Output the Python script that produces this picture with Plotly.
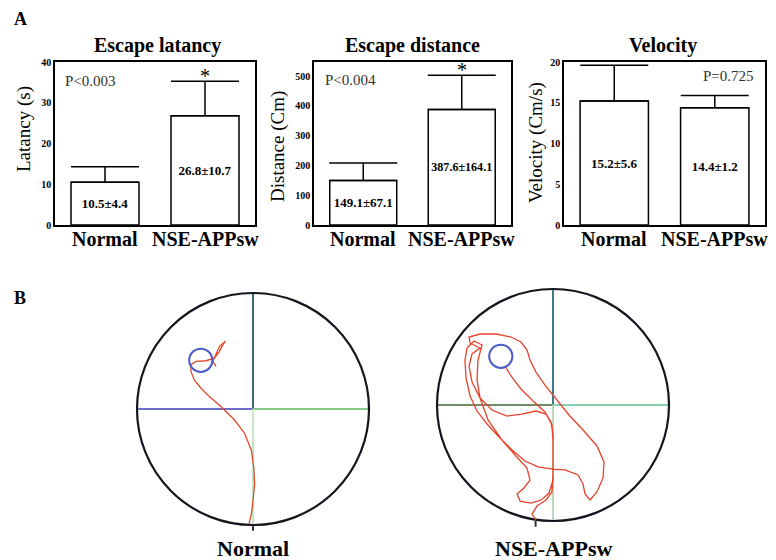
import plotly.graph_objects as go

# ---------------- data ----------------
groups = ["Normal", "NSE-APPsw"]

latency_mean = [10.5, 26.8]
latency_err = [3.8, 8.5]
latency_labels = ["10.5±4.4", "26.8±10.7"]

distance_mean = [149.1, 387.6]
distance_err = [59, 115]
distance_labels = ["149.1±67.1", "387.6±164.1"]

velocity_mean = [15.2, 14.4]
velocity_err = [4.4, 1.5]
velocity_labels = ["15.2±5.6", "14.4±1.2"]

panel_titles = ["Escape latancy", "Escape distance", "Velocity"]
y_titles = ["Latancy (s)", "Distance (Cm)", "Velocity (Cm/s)"]
p_values = ["P<0.003", "P<0.004", "P=0.725"]

lat_ticks = [0, 10, 20, 30, 40]
dist_ticks = [0, 100, 200, 300, 400, 500]
vel_ticks = [0, 5, 10, 15, 20]

# swim paths in pool units (pool radius = 100, centre = 0,0)
normal_x = [-3.5, -1.4, 0.0, 1.4, 0.6, -1.4, -7.2, -15.9, -27.5, -37.6, -44.8, -50.6,
            -53.5, -53.5, -49.1, -40.5, -33.2, -28.9, -26.0, -23.7, -28.9, -31.8, -34.7, -31.8]
normal_y = [-99.0, -90.5, -78.9, -64.5, -50.0, -35.5, -21.1, -9.5, 2.0, 10.7, 17.9, 25.1,
            32.4, 38.2, 41.0, 41.6, 43.9, 49.7, 55.5, 58.4, 54.0, 46.8, 41.0, 36.7]

nse_x = [-14.7, -18.1, -13.8, -6.0, -0.9, 0.0, 0.0, 0.0, -1.7, -6.0, -14.7, -26.7, -39.7,
         -52.6, -62.9, -69.8, -72.4, -69.8, -62.9, -71.5, -72.4, -62.9, -49.1, -36.2, -27.6,
         -22.4, -19.8, -14.7, -6.9, 2.6, 13.8, 26.7, 37.9, 44.0, 43.1, 37.9, 31.9, 27.6, 25.9,
         21.6, 10.3, 0.0, -12.9, -24.1, -35.3, -46.5, -56.9, -65.5, -71.5, -75.0, -75.9, -74.1,
         -68.1, -61.2, -64.7, -65.5, -62.9, -56.0, -44.0, -31.9, -22.4, -19.8, -25.0, -31.0,
         -28.4, -19.0, -10.3, -3.4, 0.0, 0.0, 0.0, -0.9, -6.9, -17.2, -27.6, -36.2, -41.4]
nse_y = [-99.0, -94.0, -87.1, -81.9, -75.0, -60.3, -43.1, -25.9, -14.7, -7.8, -5.2, -7.8,
         -9.5, -4.3, 6.0, 19.8, 33.6, 44.0, 49.1, 53.4, 58.6, 61.2, 61.2, 58.6, 54.3, 47.4,
         38.8, 28.4, 17.2, 5.2, -8.6, -22.4, -35.3, -49.1, -62.9, -75.0, -81.9, -76.7, -68.1,
         -60.3, -56.0, -55.2, -53.4, -48.3, -38.8, -27.6, -16.4, -5.2, 7.8, 23.3, 38.8, 49.1,
         55.2, 51.7, 38.8, 21.6, 6.0, -12.9, -30.2, -44.0, -54.3, -64.7, -71.5, -76.7, -82.8,
         -84.5, -81.9, -75.9, -64.7, -47.4, -30.2, -17.2, -6.0, 3.4, 13.8, 25.0, 33.6]

platform_x = -45
platform_y = 42
platform_r = 10
pool_r = 100
start_x = [0, -15]
start_y = [-103, -103]

# ---------------- figure ----------------
W, H = 776, 560
SERIF = "Liberation Serif, Times New Roman, serif"


def fx(p):
    return p / W


def fy(p):
    return 1 - p / H


fig = go.Figure()

bar_sets = [(latency_mean, latency_err, latency_labels),
            (distance_mean, distance_err, distance_labels),
            (velocity_mean, velocity_err, velocity_labels)]
axis_ids = ["", "2", "3"]
x_domains = [(55, 255), (314, 511), (564, 765)]
y_ranges = [[0, 40], [0, 547], [0, 20]]
tick_sets = [lat_ticks, dist_ticks, vel_ticks]

for (m, e, l), aid in zip(bar_sets, axis_ids):
    fig.add_trace(go.Bar(
        x=groups, y=m, width=0.68,
        marker=dict(color="white", line=dict(color="black", width=1.5)),
        error_y=dict(type="data", array=e, arrayminus=[0, 0], symmetric=False,
                     width=34, thickness=1.5, color="black"),
        text=l, texttemplate="<b>%{text}</b>", textposition="inside",
        insidetextanchor="middle", textangle=0,
        textfont=dict(family=SERIF, size=13, color="black"),
        xaxis="x" + aid, yaxis="y" + aid, showlegend=False, hoverinfo="skip"))

layout = dict(width=W, height=H, margin=dict(l=0, r=0, t=0, b=0, autoexpand=False),
              paper_bgcolor="white", plot_bgcolor="white", showlegend=False)

for i, aid in enumerate(axis_ids):
    x0, x1 = x_domains[i]
    layout["xaxis" + aid] = dict(
        domain=[fx(x0), fx(x1)], type="category", range=[-0.5, 1.5],
        showline=True, mirror=True, linecolor="black", linewidth=1.5,
        ticks="", showgrid=False, zeroline=False, anchor="y" + aid, automargin=False,
        showticklabels=False)
    layout["yaxis" + aid] = dict(
        domain=[fy(225), fy(62)], range=y_ranges[i], tickvals=tick_sets[i],
        showline=True, mirror=True, linecolor="black", linewidth=1.5,
        ticks="", showgrid=False, zeroline=False, anchor="x" + aid, automargin=False,
        tickfont=dict(family=SERIF, size=10, color="black", weight="bold"))

# pool axes
pools = [("4", 253, 409), ("5", 553, 405)]
for aid, cx, cy in pools:
    half = 121.8
    layout["xaxis" + aid] = dict(domain=[fx(cx - half), fx(cx + half)], range=[-105, 105],
                                 visible=False, anchor="y" + aid, automargin=False)
    layout["yaxis" + aid] = dict(domain=[fy(cy + half), fy(cy - half)], range=[-105, 105],
                                 visible=False, anchor="x" + aid, automargin=False)

fig.update_layout(**layout)

# paths
fig.add_trace(go.Scatter(x=normal_x, y=normal_y, mode="lines",
                         line=dict(color="#e2492b", width=1.3),
                         xaxis="x4", yaxis="y4", hoverinfo="skip"))
fig.add_trace(go.Scatter(x=nse_x, y=nse_y, mode="lines",
                         line=dict(color="#e8412a", width=1.3),
                         xaxis="x5", yaxis="y5", hoverinfo="skip"))
for k, aid in enumerate(["4", "5"]):
    fig.add_trace(go.Scatter(x=[start_x[k]], y=[start_y[k]], mode="markers",
                             marker=dict(symbol="line-ns", size=5,
                                         line=dict(color="#333", width=2)),
                             xaxis="x" + aid, yaxis="y" + aid, hoverinfo="skip"))

shapes = []
cross_colors = {
    "4": ["#3d6670", "#6e6ec8", "#86c886", "#c6e6c6"],
    "5": ["#3a7a8a", "#6f8c66", "#86d0aa", "#b8dcb8"],
}
for aid in ["4", "5"]:
    xr, yr = "x" + aid, "y" + aid
    up, left, right, down = cross_colors[aid]
    segs = [((0, 0), (0, pool_r), up), ((-pool_r, 0), (0, 0), left),
            ((0, 0), (pool_r, 0), right), ((0, -pool_r), (0, 0), down)]
    for (a, b), (c, d), col in segs:
        shapes.append(dict(type="line", xref=xr, yref=yr, x0=a, y0=b, x1=c, y1=d,
                           line=dict(color=col, width=2), layer="below"))
    shapes.append(dict(type="circle", xref=xr, yref=yr, x0=-pool_r, y0=-pool_r,
                       x1=pool_r, y1=pool_r, line=dict(color="#15151f", width=2.2),
                       layer="below"))
    shapes.append(dict(type="circle", xref=xr, yref=yr,
                       x0=platform_x - platform_r, x1=platform_x + platform_r,
                       y0=platform_y - platform_r, y1=platform_y + platform_r,
                       line=dict(color="#4a5cc8", width=2), layer="above"))

annotations = []


def txt(text, x, y, size, bold=False, color="black", angle=0):
    if bold:
        text = "<b>" + text + "</b>"
    annotations.append(dict(text=text, x=fx(x), y=fy(y), xref="paper", yref="paper",
                            xanchor="center", yanchor="middle",
                            showarrow=False, textangle=angle,
                            font=dict(family=SERIF, size=size, color=color)))


txt("A", 20, 19, 18, bold=True)
txt("B", 20, 298, 18, bold=True)
title_x = [157, 412, 663]
for t, x in zip(panel_titles, title_x):
    txt(t, x, 45, 20, bold=True)
ytitle_pos = [(24, 129), (278, 147), (536, 143)]
for t, (x, y) in zip(y_titles, ytitle_pos):
    txt(t, x, y, 19, angle=-90)
p_pos = [(90, 81), (350, 80), (728, 76)]
for t, (x, y) in zip(p_values, p_pos):
    txt(t, x, y, 15, color="#333333")

# category labels under each bar chart
for aid in axis_ids:
    for k, g in enumerate(groups):
        annotations.append(dict(text="<b>" + g + "</b>", x=k, y=fy(239),
                                xref="x" + aid, yref="paper", showarrow=False,
                                xanchor="center", yanchor="middle",
                                font=dict(family=SERIF, size=20, color="black")))

# significance stars above the NSE caps
for (m, e, l), aid in list(zip(bar_sets, axis_ids))[:2]:
    annotations.append(dict(text="*", x=1, y=m[1] + e[1], xref="x" + aid, yref="y" + aid,
                            showarrow=False, yanchor="bottom", yshift=-8,
                            font=dict(family=SERIF, size=20, color="black")))

txt(groups[0], 253, 548, 22, bold=True)
txt(groups[1], 553, 548, 22, bold=True)

fig.update_layout(shapes=shapes, annotations=annotations)
fig.write_html("out.html", config={"displayModeBar": False},
               post_script="document.body.style.margin='0';document.body.style.overflow='hidden';")
